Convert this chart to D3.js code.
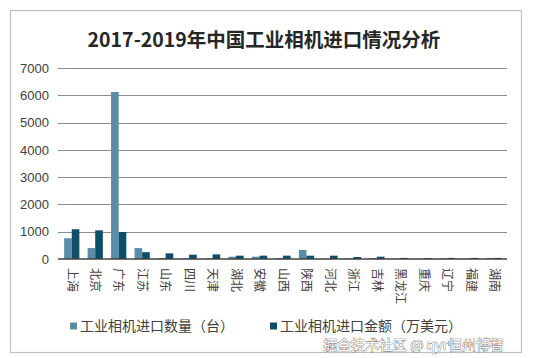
<!DOCTYPE html>
<html>
<head>
<meta charset="utf-8">
<script src="https://cdn.jsdelivr.net/npm/d3@7"></script>
<style>
  html, body { margin: 0; padding: 0; background: #fff; }
  svg { display: block; font-family: "Liberation Sans", Arial, "Noto Sans CJK SC", sans-serif; }
</style>
</head>
<body>
<svg id="chart" width="533" height="358"></svg>
<script>
const titleText = "2017-2019年中国工业相机进口情况分析";
const categories = ["上海","北京","广东","江苏","山东","四川","天津","湖北","安徽","山西","陕西","河北","浙江","吉林","黑龙江","重庆","辽宁","福建","湖南"];
const quantity = [760, 400, 6120, 400, 30, 25, 25, 85, 85, 40, 330, 10, 25, 37, 15, 10, 20, 20, 40];
const amount   = [1090, 1050, 990, 250, 208, 158, 170, 122, 122, 122, 122, 122, 73, 85, 40, 35, 40, 40, 40];
const seriesNames = ["工业相机进口数量（台）", "工业相机进口金额（万美元）"];
const seriesColors = ["#5b8ea6", "#0e4e68"];
const yTicks = [0, 1000, 2000, 3000, 4000, 5000, 6000, 7000];
const watermark = "掘金技术社区 @ qyr恒州博智";

const svg = d3.select("#chart");
const cjk = "\"Noto Sans CJK SC\", \"Microsoft YaHei\", sans-serif";

// outer frame
svg.append("rect").attr("x", 10.5).attr("y", 10.5).attr("width", 511).attr("height", 342)
  .attr("fill", "#fff").attr("stroke", "#bfbfbf").attr("stroke-width", 1.2);

// title
svg.append("text").attr("x", 264).attr("y", 47).attr("text-anchor", "middle")
  .attr("font-size", 19.5).attr("font-weight", "bold").attr("fill", "#262626")
  .attr("font-family", cjk)
  .text(titleText);

const y = d3.scaleLinear().domain([0, 7000]).range([259, 68]);
const x0 = d3.scaleBand().domain(categories).range([60, 506]).paddingInner(0.35).paddingOuter(0.175);
const x1 = d3.scaleBand().domain([0, 1]).range([0, x0.bandwidth()]);

// gridlines
svg.append("g").selectAll("line").data(yTicks.filter(d => d > 0)).join("line")
  .attr("x1", 58).attr("x2", 507)
  .attr("y1", d => Math.round(y(d)) + 0.5).attr("y2", d => Math.round(y(d)) + 0.5)
  .attr("stroke", "#8c8c8c").attr("stroke-width", 1);

// y axis labels
const yAxis = d3.axisLeft(y).tickValues(yTicks).tickFormat(d3.format("d")).tickSize(0).tickPadding(0);
const gy = svg.append("g").attr("transform", "translate(49,0)").call(yAxis);
gy.select(".domain").remove();
gy.selectAll("text").attr("font-size", 13).attr("fill", "#404040")
  .attr("font-family", "\"Liberation Sans\", Arial, sans-serif");

// bars
const data = categories.map((c, i) => ({ c, v: [quantity[i], amount[i]] }));
const groups = svg.append("g").selectAll("g").data(data).join("g")
  .attr("transform", d => `translate(${x0(d.c)},0)`);
groups.selectAll("rect").data(d => d.v.map((v, k) => ({ v, k }))).join("rect")
  .attr("x", d => x1(d.k)).attr("width", x1.bandwidth())
  .attr("y", d => y(d.v)).attr("height", d => y(0) - y(d.v))
  .attr("fill", d => seriesColors[d.k]);

// baseline
svg.append("line").attr("x1", 58).attr("x2", 507).attr("y1", y(0)).attr("y2", y(0))
  .attr("stroke", "#404040").attr("stroke-width", 1.5);

// x axis labels (rotated)
const xAxis = d3.axisBottom(x0).tickSize(0).tickPadding(0);
const gx = svg.append("g").attr("transform", `translate(0,${y(0) + 9})`).call(xAxis);
gx.select(".domain").remove();
gx.selectAll("text")
  .attr("font-size", 12).attr("fill", "#404040").attr("font-family", cjk)
  .attr("text-anchor", "start")
  .attr("transform", "rotate(90)")
  .attr("x", 0).attr("y", 0).attr("dy", "0.35em");

// legend
const legendX = [70, 270];
const lg = svg.append("g").selectAll("g").data(seriesNames).join("g")
  .attr("transform", (d, i) => `translate(${legendX[i]},326)`);
lg.append("rect").attr("x", 0).attr("y", -3.5).attr("width", 7).attr("height", 7)
  .attr("fill", (d, i) => seriesColors[i]);
lg.append("text").attr("x", 10).attr("y", 0).attr("dy", "0.35em")
  .attr("font-size", 14).attr("fill", "#404040").attr("font-family", cjk)
  .text(d => d);

// site watermark
svg.append("text").attr("x", 323).attr("y", 350)
  .attr("font-size", 14).attr("font-family", cjk)
  .attr("fill", "#ffffff").attr("stroke", "#555").attr("stroke-width", 0.7)
  .attr("paint-order", "stroke")
  .text(watermark);
</script>
</body>
</html>
